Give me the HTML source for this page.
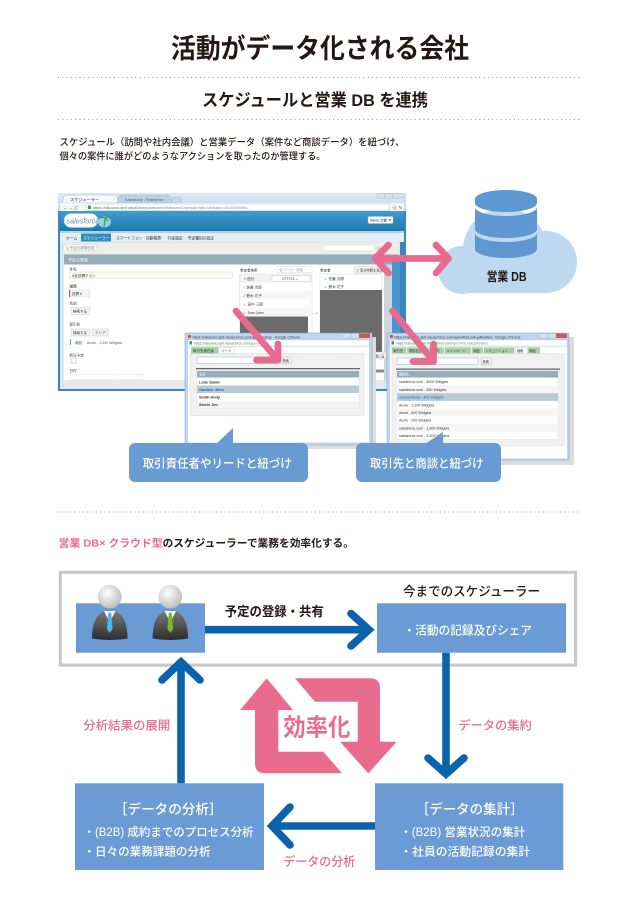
<!DOCTYPE html>
<html><head><meta charset="utf-8">
<style>
html,body{margin:0;padding:0;background:#fff;}
svg{display:block;}
text{font-family:"Liberation Sans","Noto Sans CJK JP",sans-serif;}
</style></head><body>
<svg width="636" height="904" viewBox="0 0 636 904" xmlns="http://www.w3.org/2000/svg">
<defs>
 <linearGradient id="sfh" x1="0" y1="0" x2="0" y2="1"><stop offset="0" stop-color="#3fa0cf"/><stop offset="1" stop-color="#1c78ac"/></linearGradient>
 <linearGradient id="tb" x1="0" y1="0" x2="0" y2="1"><stop offset="0" stop-color="#dfeaf6"/><stop offset="1" stop-color="#c3d7ec"/></linearGradient>
 <radialGradient id="head" cx="0.4" cy="0.35" r="0.7"><stop offset="0" stop-color="#ffffff"/><stop offset="1" stop-color="#b9b9b9"/></radialGradient>
 <linearGradient id="body" x1="0" y1="0" x2="0" y2="1"><stop offset="0" stop-color="#7a7a7a"/><stop offset="1" stop-color="#2c2c2c"/></linearGradient>
</defs>

<!-- Title -->
<text x="171" y="58" font-size="27" font-weight="700" fill="#231815" textLength="298" lengthAdjust="spacingAndGlyphs">活動がデータ化される会社</text>
<line x1="58" y1="77.5" x2="580" y2="77.5" stroke="#999" stroke-width="1" stroke-dasharray="1 3.3"/>
<text x="202" y="106" font-size="17" font-weight="700" fill="#231815" textLength="226" lengthAdjust="spacingAndGlyphs">スケジュールと営業 DB を連携</text>
<line x1="58" y1="119.5" x2="580" y2="119.5" stroke="#999" stroke-width="1" stroke-dasharray="1 3.3"/>
<text x="59.5" y="145.5" font-size="9.5" font-weight="500" fill="#231815" textLength="345" lengthAdjust="spacingAndGlyphs">スケジュール（訪問や社内会議）と営業データ（案件など商談データ）を紐づけ、</text>
<text x="59.5" y="159.5" font-size="9.5" font-weight="500" fill="#231815" textLength="266" lengthAdjust="spacingAndGlyphs">個々の案件に誰がどのようなアクションを取ったのか管理する。</text>

<!-- ===== Main browser window ===== -->
<g font-size="4" fill="#333">
<rect x="58" y="193" width="348" height="198" fill="#3a84c2"/>
<rect x="58" y="193" width="348" height="18" fill="url(#tb)"/>
<path d="M62,203 L64,196.5 Q64.5,195 66,195 L115,195 Q116.5,195 117,196.5 L119,203 Z" fill="#f5f8fc" stroke="#8fa9c6" stroke-width="0.4"/>
<text x="70" y="201" font-size="4.2">スケジューラー</text>
<path d="M117,203 L119,196.5 Q119.5,195 121,195 L168,195 Q169.5,195 170,196.5 L172,203 Z" fill="#bcd1e8" stroke="#8fa9c6" stroke-width="0.4"/>
<text x="125" y="201" font-size="3.8" fill="#555">Salesforce - Enterprise</text>
<path d="M171,203 L173,197 L180,197 L182,203 Z" fill="#c9d9ea" stroke="#8fa9c6" stroke-width="0.4"/>
<rect x="377" y="193.5" width="8" height="4.5" fill="#d6e2ee" stroke="#8aa0b8" stroke-width="0.3"/>
<rect x="385" y="193.5" width="8" height="4.5" fill="#d6e2ee" stroke="#8aa0b8" stroke-width="0.3"/>
<rect x="393" y="193.5" width="11" height="4.5" fill="#d6e2ee" stroke="#8aa0b8" stroke-width="0.3"/>
<rect x="60" y="203" width="344" height="8" fill="#f3f6fa"/>
<text x="63" y="209.3" font-size="4.5" fill="#555">← → C</text>
<rect x="86" y="204" width="303" height="6.5" fill="#fff" stroke="#a9b8c8" stroke-width="0.4"/>
<rect x="88" y="205.5" width="3" height="3.5" fill="#4a9a3a"/>
<text x="93" y="209" font-size="3.8" fill="#3a8a3a">https://rakuumo.ap0.visual.force.com<tspan fill="#888">/apex/RakuumoCalendar?sfdc.tabName=01r10000000...</tspan></text>
<text x="392" y="209.5" font-size="5" fill="#666">☆ ✎</text>
<rect x="60" y="211" width="344" height="20" fill="url(#sfh)"/>
<rect x="64" y="213.5" width="34" height="14" rx="7" fill="#fff" stroke="#8fc3d8" stroke-width="0.5"/>
<text x="66.5" y="223.3" font-size="7.2" font-style="italic" font-family="Liberation Serif, serif" fill="#6f8ea2">salesforce</text>
<ellipse cx="104.5" cy="222" rx="6.5" ry="5.5" fill="#8fd0e2"/>
<path d="M104,227 L105,218 M105,218 L100,217 M105,218 L110,216.5 M105,218 L108,221" stroke="#3f8f3a" stroke-width="1"/>
<rect x="368" y="216.5" width="25" height="7" rx="1" fill="#fff" stroke="#9bb" stroke-width="0.4"/>
<text x="370" y="221.3" font-size="3.5">Name 次郎 ▼</text>
<rect x="60" y="231" width="344" height="2" fill="#a9d3e8"/>
<rect x="60" y="233" width="344" height="9" fill="#e7eef3"/>
<text x="66" y="239.3" font-size="3.8">ホーム</text>
<rect x="81" y="233.5" width="30" height="8" fill="#2d8fc0"/>
<text x="83" y="239.3" font-size="3.8" fill="#fff">スケジューラー</text>
<text x="116" y="239.3" font-size="3.8">スマートフォン</text>
<text x="146" y="239.3" font-size="3.8">自動帳票</text>
<text x="167.5" y="239.3" font-size="3.8">行程設定</text>
<text x="187.5" y="239.3" font-size="3.8">予定種別の設定</text>
<rect x="60" y="242" width="340" height="147" fill="#dbe7ee"/>
<rect x="63" y="243" width="335" height="11" fill="#efeee4"/>
<rect x="63.5" y="244.5" width="33" height="6" fill="#f8f8f4" stroke="#ccc" stroke-width="0.4"/>
<text x="66" y="249.2" font-size="3.5" fill="#888">Q 予定を新規作成</text>
<rect x="323" y="245" width="52" height="6" fill="#fff" stroke="#ccc" stroke-width="0.4"/>
<text x="377" y="249.5" font-size="3.5" fill="#888">Q 予</text>
<rect x="64" y="254.5" width="334" height="10" fill="#94abb9"/>
<text x="68" y="261.3" font-size="4" fill="#fff">予定の登録</text>
<rect x="64" y="264.5" width="320" height="116" fill="#fff"/>
<rect x="64" y="380" width="320" height="8" fill="#e9e9e9"/>
<rect x="384" y="264.5" width="8" height="116" fill="#cad7e1"/>
<rect x="392" y="262" width="8" height="126" fill="#4b93cb"/>
<!-- left fields -->
<text x="69.5" y="270.5" font-size="3.6">件名</text>
<rect x="69.5" y="272" width="163" height="6.5" fill="#fbfaf2" stroke="#dcdcd0" stroke-width="0.5"/>
<text x="72" y="276.8" font-size="3.6">A社訪問テスト</text>
<text x="69.5" y="287.5" font-size="3.6">種類</text>
<rect x="69.5" y="290" width="20" height="7" fill="#f5f5f5" stroke="#ccc" stroke-width="0.4"/>
<rect x="69" y="290" width="1.2" height="7" fill="#d04b6f"/>
<text x="72" y="295" font-size="3.6">訪問 ▾</text>
<text x="69.5" y="304.5" font-size="3.6">名前</text>
<rect x="71" y="307.5" width="19" height="7" fill="#f3f3f3" stroke="#bbb" stroke-width="0.4"/>
<text x="73" y="312.5" font-size="3.5">検索する</text>
<text x="69.5" y="325.5" font-size="3.6">取引先</text>
<rect x="71" y="329" width="19" height="7" fill="#f3f3f3" stroke="#bbb" stroke-width="0.4"/>
<text x="73" y="334" font-size="3.5">検索する</text>
<rect x="92.5" y="329" width="15.5" height="7" fill="#f3f3f3" stroke="#bbb" stroke-width="0.4"/>
<text x="95" y="334" font-size="3.5">クリア</text>
<rect x="70" y="339" width="1" height="6" fill="#6aa3d0"/>
<text x="75" y="343.8" font-size="3.6" fill="#555">商談： Acme - 1,200 Widgets</text>
<text x="69.5" y="356.5" font-size="3.6">終日予定</text>
<rect x="71" y="358" width="5" height="5" fill="#fff" stroke="#999" stroke-width="0.4"/>
<text x="69.5" y="372" font-size="3.6">日付</text>
<rect x="70" y="374.5" width="45" height="5" fill="#fff" stroke="#ddd" stroke-width="0.4"/>
<rect x="118" y="374.5" width="25" height="5" fill="#fff" stroke="#ddd" stroke-width="0.4"/>
<!-- middle list -->
<text x="240" y="271.5" font-size="3.5">参加者検索</text>
<rect x="277" y="266.5" width="35" height="6" fill="#fff" stroke="#ccc" stroke-width="0.4"/>
<text x="279" y="271" font-size="3.3" fill="#999">名/メンバー検索</text>
<rect x="239.5" y="274" width="72.5" height="60" fill="#fff" stroke="#ccc" stroke-width="0.4"/>
<rect x="240" y="274" width="72" height="8.5" fill="#f0f0f0"/>
<text x="244" y="280" font-size="3.6">+ 自分</text>
<rect x="272" y="275.5" width="38" height="6" fill="#fff" stroke="#bbb" stroke-width="0.4"/>
<text x="282" y="280" font-size="3.4">CFTF13 ⌄</text>
<rect x="240" y="291" width="72" height="8.3" fill="#f6f6f6"/>
<rect x="240" y="307.5" width="72" height="8.5" fill="#f6f6f6"/>
<text x="243" y="288.5" font-size="3.6"><tspan fill="#3a8ac0">✓</tspan>  佐藤 次郎</text>
<text x="243" y="297" font-size="3.6"><tspan fill="#3a8ac0">✓</tspan>  鈴木 花子</text>
<text x="243" y="305.5" font-size="3.6"><tspan fill="#3a8ac0">⊥</tspan>  田中 三郎</text>
<text x="243" y="313.8" font-size="3.6"><tspan fill="#3a8ac0">⊥</tspan>  Dow John</text>
<rect x="240" y="316.5" width="68" height="18" fill="#6b6b6b"/>
<text x="312.5" y="314" font-size="3.5" fill="#777">---&gt;</text>
<text x="320" y="271.5" font-size="3.5">参加者</text>
<rect x="354" y="266.5" width="28" height="6.5" fill="#f3f3f3" stroke="#bbb" stroke-width="0.4"/>
<text x="356" y="271.3" font-size="3.3">☐ 空き時間を表示</text>
<rect x="320" y="274" width="62" height="79.5" fill="#fff" stroke="#ccc" stroke-width="0.4"/>
<text x="324" y="280" font-size="3.6"><tspan fill="#3a8ac0">⊥</tspan>  佐藤 次郎</text>
<text x="324" y="288" font-size="3.6"><tspan fill="#3a8ac0">⊥</tspan>  鈴木 花子</text>
<rect x="320" y="290" width="62" height="63.5" fill="#6b6b6b"/>
<rect x="360" y="352" width="26" height="7" fill="#f3f3f3" stroke="#bbb" stroke-width="0.4"/>
<text x="368" y="357.5" font-size="3.3">窓を閉じる</text>
<rect x="362" y="369.5" width="22" height="3" fill="#888"/>
</g>

<!-- ===== Popup 1 ===== -->
<g font-size="3.8" fill="#333">
<rect x="189" y="337" width="187" height="112" fill="#dcdcdc"/>
<rect x="185" y="333" width="187" height="112" fill="#c0d6ee" stroke="#7d9cc0" stroke-width="0.5"/>
<circle cx="189.5" cy="336.5" r="1.6" fill="#d9532c"/>
<text x="192.5" y="338.5" font-size="3.6">https://rakuumo.ap0.visual.force.com/apex/lookup - Google Chrome</text>
<rect x="342" y="333.5" width="9" height="4.5" fill="#d6e2ee" stroke="#8aa0b8" stroke-width="0.3"/>
<rect x="351" y="333.5" width="8" height="4.5" fill="#d6e2ee" stroke="#8aa0b8" stroke-width="0.3"/>
<rect x="359" y="333.5" width="11" height="4.5" fill="#c85a52"/>
<rect x="188" y="340" width="181" height="6" fill="#fff" stroke="#a9b8c8" stroke-width="0.3"/>
<rect x="189.5" y="341.2" width="2.5" height="3.3" fill="#4a9a3a"/>
<text x="194" y="344.5" font-size="3.4" fill="#3a8a3a">https://rakuumo.ap0.visual.force.com<tspan fill="#888">/apex/lookup</tspan></text>
<rect x="188" y="346.5" width="181" height="96" fill="#fff"/>
<rect x="191.5" y="347.5" width="26.5" height="6" fill="#a9d1a3" stroke="#88b584" stroke-width="0.4"/>
<text x="193" y="352" font-size="3.5">取引先責任者</text>
<rect x="218.5" y="347.5" width="16" height="6" fill="#fff" stroke="#bbb" stroke-width="0.4"/>
<text x="221" y="352" font-size="3.5">リード</text>
<rect x="190" y="353.5" width="174" height="62" fill="#f1f1f1" stroke="#d3d3d3" stroke-width="0.4"/>
<rect x="197" y="357" width="81" height="6.5" fill="#fff" stroke="#9ab4c8" stroke-width="0.5"/>
<rect x="281" y="357" width="10" height="6.5" fill="#f6f6f6" stroke="#aaa" stroke-width="0.4"/>
<text x="282.5" y="361.8" font-size="3.3">検索</text>
<rect x="196" y="368" width="164" height="1.3" fill="#666"/>
<rect x="197" y="371" width="162" height="37.5" fill="#fff" stroke="#ddd" stroke-width="0.4"/>
<rect x="197" y="371" width="162" height="6.5" fill="#97acba"/>
<text x="199" y="375.7" font-size="3.3" fill="#fff">名前</text>
<rect x="197" y="385.5" width="162" height="7.5" fill="#b7cbd7"/>
<rect x="197" y="400.8" width="162" height="7.5" fill="#f4f4f4"/>
<text x="199" y="383.3" font-size="3.8" font-weight="700">Lode Sarah</text>
<text x="199" y="390.9" font-size="3.8" font-weight="700" fill="#2b5f9b">Gardner John</text>
<text x="199" y="398.5" font-size="3.8" font-weight="700">Smith Andy</text>
<text x="199" y="406.1" font-size="3.8" font-weight="700">Steele Jim</text>
</g>

<!-- ===== Popup 2 ===== -->
<g font-size="3.8" fill="#333">
<rect x="391" y="337" width="183" height="128" fill="#dcdcdc"/>
<rect x="387" y="333" width="182" height="127" fill="#c0d6ee" stroke="#7d9cc0" stroke-width="0.5"/>
<circle cx="391.5" cy="336.5" r="1.6" fill="#d9532c"/>
<text x="394.5" y="338.5" font-size="3.6">https://rakuumo.ap0.visual.force.com/apex/KSLookupRelated - Google Chrome</text>
<rect x="539" y="333.5" width="9" height="4.5" fill="#d6e2ee" stroke="#8aa0b8" stroke-width="0.3"/>
<rect x="548" y="333.5" width="8" height="4.5" fill="#d6e2ee" stroke="#8aa0b8" stroke-width="0.3"/>
<rect x="556" y="333.5" width="11" height="4.5" fill="#c85a52"/>
<rect x="390" y="340" width="177" height="6" fill="#fff" stroke="#a9b8c8" stroke-width="0.3"/>
<rect x="391.5" y="341.2" width="2.5" height="3.3" fill="#4a9a3a"/>
<text x="396" y="344.5" font-size="3.4" fill="#3a8a3a">https://rakuumo.ap0.visual.force.com<tspan fill="#888">/apex/KSLookupRelated</tspan></text>
<rect x="390" y="346.5" width="177" height="112" fill="#fff"/>
<g stroke="#88b584" stroke-width="0.4" fill="#a9d1a3">
<rect x="392" y="347.8" width="14" height="5.7"/>
<rect x="407.5" y="347.8" width="19.5" height="5.7"/>
<rect x="428.5" y="347.8" width="15" height="5.7"/>
<rect x="445" y="347.8" width="25.5" height="5.7"/>
<rect x="472" y="347.8" width="10.5" height="5.7"/>
<rect x="484" y="347.8" width="30" height="5.7"/>
<rect x="528" y="347.8" width="11.5" height="5.7"/>
</g>
<rect x="515.5" y="347.8" width="11.5" height="5.7" fill="#fff" stroke="#bbb" stroke-width="0.4"/>
<g font-size="3.2">
<text x="393.5" y="352">取引先</text>
<text x="409" y="352">商談担当</text>
<text x="430" y="352">取引先</text>
<text x="446.5" y="352">キャンペーン</text>
<text x="473.5" y="352">納品</text>
<text x="485.5" y="352">ソリューション</text>
<text x="517" y="352">価格</text>
<text x="529.5" y="352">商品</text>
</g>
<rect x="392" y="353.5" width="172" height="92" fill="#f1f1f1" stroke="#d3d3d3" stroke-width="0.4"/>
<rect x="397" y="358" width="81" height="6.5" fill="#fff" stroke="#9cc4e0" stroke-width="0.6"/>
<rect x="481" y="358" width="10" height="6.5" fill="#f6f6f6" stroke="#aaa" stroke-width="0.4"/>
<text x="482.5" y="362.8" font-size="3.3">検索</text>
<rect x="396" y="368.5" width="164" height="1.3" fill="#666"/>
<rect x="397" y="371" width="161" height="68.5" fill="#fff" stroke="#ddd" stroke-width="0.4"/>
<rect x="397" y="371" width="161" height="6.5" fill="#97acba"/>
<text x="399" y="375.7" font-size="3.3" fill="#fff">商談名</text>
<rect x="397" y="385.5" width="161" height="7.7" fill="#f5f5f5"/>
<rect x="397" y="393.2" width="161" height="7.7" fill="#b7cbd7"/>
<rect x="397" y="408.6" width="161" height="7.7" fill="#f5f5f5"/>
<rect x="397" y="424" width="161" height="7.7" fill="#f5f5f5"/>
<text x="399" y="383.2" font-size="3.6">salesforce.com - 5000 Widgets</text>
<text x="399" y="390.9" font-size="3.6">salesforce.com - 500 Widgets</text>
<text x="399" y="398.6" font-size="3.6" fill="#2b5f9b">Global Media - 400 Widgets</text>
<text x="399" y="406.3" font-size="3.6">Acme - 1,200 Widgets</text>
<text x="399" y="414" font-size="3.6">Acme - 600 Widgets</text>
<text x="399" y="421.7" font-size="3.6">Acme - 200 Widgets</text>
<text x="399" y="429.4" font-size="3.6">salesforce.com - 1,000 Widgets</text>
<text x="399" y="437.1" font-size="3.6">salesforce.com - 2,000 Widgets</text>
</g>

<!-- Bubbles -->
<rect x="129" y="443" width="179" height="39" rx="6" fill="#699bd3"/>
<polygon points="216,444 233,428 233,444" fill="#699bd3"/>
<text x="142.7" y="467.5" font-size="12" font-weight="500" fill="#fff" textLength="149" lengthAdjust="spacingAndGlyphs">取引責任者やリードと紐づけ</text>
<rect x="356" y="443" width="145" height="39" rx="6" fill="#699bd3"/>
<polygon points="425,444 443,432 443,444" fill="#699bd3"/>
<text x="370" y="467.5" font-size="12" font-weight="500" fill="#fff" textLength="113.5" lengthAdjust="spacingAndGlyphs">取引先と商談と紐づけ</text>

<!-- DB cloud -->
<g fill="#bed8ef">
<circle cx="505" cy="250" r="42"/>
<circle cx="462" cy="270" r="24"/>
<circle cx="546" cy="262" r="31"/>
<rect x="462" y="252" width="86" height="41"/>
</g>
<g fill="#5f97d2">
<path d="M475,199 A31,9 0 0 1 537,199 L537,203 A31,9 0 0 1 475,203 Z"/>
<path d="M475,207 A31,9 0 0 0 537,207 L537,229 A31,9 0 0 1 475,229 Z"/>
<path d="M475,233 A31,9 0 0 0 537,233 L537,249 A31,9 0 0 1 475,249 Z"/>
</g>
<text x="486.7" y="281" font-size="12.5" font-weight="700" fill="#231815" textLength="40" lengthAdjust="spacingAndGlyphs">営業 DB</text>

<!-- Pink arrows -->
<g stroke="#e96a8f" stroke-width="6.7" fill="none" stroke-linecap="round" stroke-linejoin="round">
<line x1="377" y1="258.5" x2="447" y2="258.5"/>
<polyline points="388.5,245 375,258.5 388.5,273"/>
<polyline points="436,245 448.5,258.5 436,273"/>
<line x1="236" y1="311" x2="277" y2="359"/>
<polyline points="278,344 278,360 256.5,360"/>
<line x1="392.5" y1="311" x2="432.5" y2="360"/>
<polyline points="433.5,344 433.5,361.5 413,361.5"/>
</g>

<!-- Section 2 -->
<line x1="57" y1="512" x2="580" y2="512" stroke="#999" stroke-width="1" stroke-dasharray="1 3.3"/>
<text x="58.7" y="546.3" font-size="10.5" font-weight="700" fill="#e96a8f" textLength="104" lengthAdjust="spacingAndGlyphs">営業 DB× クラウド型</text>
<text x="162.5" y="546.3" font-size="10.5" font-weight="700" fill="#231815" textLength="191.5" lengthAdjust="spacingAndGlyphs">のスケジューラーで業務を効率化する。</text>

<rect x="60.3" y="572.3" width="515.2" height="92.8" fill="none" stroke="#c8c8c8" stroke-width="3.2"/>

<!-- people box -->
<rect x="76" y="603.3" width="129" height="49.4" fill="#6a9bd4"/>
<g>
<path d="M92,638.5 C92,624 96,610.5 109.7,610.5 C123.4,610.5 127.5,624 127.5,638.5 Q109.7,641.5 92,638.5 Z" fill="url(#body)"/>
<polygon points="104,611 109.7,622.5 115.4,611" fill="#fff"/>
<polygon points="108.2,612.5 111.2,612.5 112.6,629 109.7,633 106.8,629" fill="#4db4e6"/>
<circle cx="109.7" cy="596.7" r="11.8" fill="url(#head)"/>
<path d="M152.6,638.5 C152.6,624 156.6,610.5 170.3,610.5 C184,610.5 188.1,624 188.1,638.5 Q170.3,641.5 152.6,638.5 Z" fill="url(#body)"/>
<polygon points="164.6,611 170.3,622.5 176,611" fill="#fff"/>
<polygon points="168.8,612.5 171.8,612.5 173.2,629 170.3,633 167.4,629" fill="#7db530"/>
<circle cx="170.3" cy="596.7" r="11.8" fill="url(#head)"/>
</g>

<text x="224.8" y="616" font-size="13" font-weight="700" fill="#231815" textLength="99" lengthAdjust="spacingAndGlyphs">予定の登録・共有</text>
<text x="403" y="596" font-size="13" font-weight="500" fill="#231815" textLength="137" lengthAdjust="spacingAndGlyphs">今までのスケジューラー</text>

<rect x="377" y="603.3" width="189" height="49.4" fill="#6a9bd4"/>
<text x="403.5" y="634.5" font-size="12" font-weight="500" fill="#fff" textLength="128.5" lengthAdjust="spacingAndGlyphs">・活動の記録及びシェア</text>

<!-- Efficiency icon -->
<g fill="#e96c8e">
<path d="M240,710 L266.7,678.3 L293,710 L278.3,710 L278.3,751.7 L323.3,751.7 L342,773.3 L265,773.3 Q255,773.3 255,763.3 L255,710 Z"/>
<path d="M295,678.3 L370,678.3 Q380,678.3 380,688.3 L380,741.7 L396.7,741.7 L368.3,773.3 L340,741.7 L357.7,741.7 L357.7,701.7 L315,701.7 Z"/>
</g>
<text x="283.3" y="735.5" font-size="24" font-weight="700" fill="#e96c8e" textLength="67" lengthAdjust="spacingAndGlyphs">効率化</text>

<text x="83.3" y="729.5" font-size="12" font-weight="500" fill="#e96a8f" textLength="87" lengthAdjust="spacingAndGlyphs">分析結果の展開</text>
<text x="458.3" y="729.5" font-size="12" font-weight="500" fill="#e96a8f" textLength="73.5" lengthAdjust="spacingAndGlyphs">データの集約</text>

<!-- bottom boxes -->
<rect x="75" y="783.3" width="189" height="86.7" fill="#6a9bd4"/>
<rect x="375" y="783.3" width="188.3" height="86.7" fill="#6a9bd4"/>
<text x="114" y="814" font-size="13.5" font-weight="500" fill="#fff" textLength="108.5" lengthAdjust="spacingAndGlyphs">［データの分析］</text>
<text x="83.5" y="836" font-size="11.5" font-weight="500" fill="#fff" textLength="170" lengthAdjust="spacingAndGlyphs">・(B2B) 成約までのプロセス分析</text>
<text x="83.5" y="855.3" font-size="11.5" font-weight="500" fill="#fff" textLength="127" lengthAdjust="spacingAndGlyphs">・日々の業務課題の分析</text>
<text x="415.7" y="814" font-size="13.5" font-weight="500" fill="#fff" textLength="108" lengthAdjust="spacingAndGlyphs">［データの集計］</text>
<text x="400.2" y="836" font-size="11.5" font-weight="500" fill="#fff" textLength="125" lengthAdjust="spacingAndGlyphs">・(B2B) 営業状況の集計</text>
<text x="400.2" y="855.3" font-size="11.5" font-weight="500" fill="#fff" textLength="130" lengthAdjust="spacingAndGlyphs">・社員の活動記録の集計</text>
<text x="283.3" y="866" font-size="12.5" font-weight="500" fill="#e96a8f" textLength="72" lengthAdjust="spacingAndGlyphs">データの分析</text>

<!-- Blue arrows -->
<g stroke="#0b62ad" stroke-width="7.6" fill="none">
<line x1="205" y1="629.7" x2="369" y2="629.7"/>
<polyline points="351,613.5 369,629.7 351,646" stroke-linecap="round"/>
<line x1="181" y1="783.3" x2="181" y2="662"/>
<polyline points="162,680 181,662 200,680" stroke-linecap="round"/>
<line x1="446" y1="652.7" x2="446" y2="774"/>
<polyline points="428,758 446,774 464,758" stroke-linecap="round"/>
<line x1="375" y1="826" x2="272" y2="826"/>
<polyline points="290,807 272,826 290,845" stroke-linecap="round"/>
</g>
</svg>
</body></html>
